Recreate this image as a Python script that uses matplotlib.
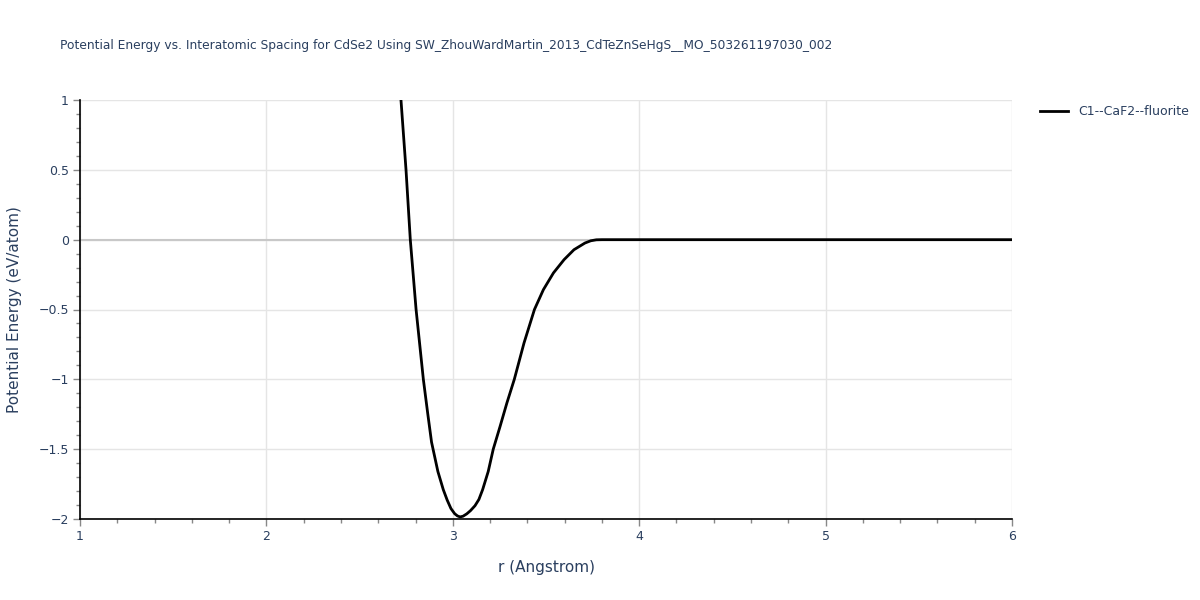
import numpy as np
import matplotlib
matplotlib.use('Agg')
import matplotlib.pyplot as plt
from matplotlib.ticker import MultipleLocator

# data
r_vals = [2.70, 2.722, 2.749, 2.772, 2.803, 2.842, 2.866, 2.886, 2.92, 2.949, 2.97,
          2.99, 3.01, 3.025, 3.039, 3.055, 3.075, 3.095, 3.119, 3.14, 3.160, 3.19,
          3.217, 3.253, 3.29, 3.33, 3.382, 3.438, 3.486, 3.54, 3.597, 3.65,
          3.709, 3.74, 3.77, 3.80, 4.0, 4.5, 5.0, 5.5, 6.0]
e_vals = [1.15, 1.0, 0.5, 0.0, -0.5, -1.0, -1.25, -1.45, -1.66, -1.79, -1.865,
          -1.925, -1.962, -1.978, -1.985, -1.98, -1.963, -1.94, -1.905, -1.86, -1.79, -1.66,
          -1.50, -1.34, -1.17, -1.0, -0.74, -0.50, -0.358, -0.238, -0.143, -0.072,
          -0.024, -0.008, -0.001, 0.0, 0.0, 0.0, 0.0, 0.0, 0.0]
series_name = 'C1--CaF2--fluorite'
title = 'Potential Energy vs. Interatomic Spacing for CdSe2 Using SW_ZhouWardMartin_2013_CdTeZnSeHgS__MO_503261197030_002'

txt = '#2a3f5f'
grid = '#e5e5e5'

fig = plt.figure(figsize=(12, 6), dpi=100)
ax = fig.add_axes([80/1200, 81/600, 932/1200, 419/600])

ax.plot(r_vals, e_vals, color='black', lw=2, label=series_name, zorder=3, clip_on=True)
ax.axhline(0, color='#c8c8c8', lw=1.5, zorder=1)

ax.set_xlim(1, 6)
ax.set_ylim(-2, 1)
ax.xaxis.set_major_locator(MultipleLocator(1))
ax.xaxis.set_minor_locator(MultipleLocator(0.2))
ax.yaxis.set_minor_locator(MultipleLocator(0.1))
ax.set_yticks([-2, -1.5, -1, -0.5, 0, 0.5, 1])
ax.set_yticklabels(['\u22122', '\u22121.5', '\u22121', '\u22120.5', '0', '0.5', '1'])
ax.grid(True, which='major', color=grid, lw=1, zorder=0)
ax.set_axisbelow(True)

for s in ['top', 'right']:
    ax.spines[s].set_visible(False)
for s in ['left', 'bottom']:
    ax.spines[s].set_color('black')
    ax.spines[s].set_linewidth(1.2)

ax.tick_params(which='both', direction='out', color='#888888', labelcolor=txt, labelsize=9)
ax.tick_params(which='major', length=5, width=1, pad=3)
ax.tick_params(which='minor', length=3, width=1)

ax.set_xlabel('r (Angstrom)', color=txt, fontsize=11, labelpad=12)
ax.set_ylabel('Potential Energy (eV/atom)', color=txt, fontsize=11, labelpad=12)

fig.text(60/1200, 1 - 45/600, title, color=txt, fontsize=8.8, ha='left', va='center')

leg = ax.legend(loc='upper left', bbox_to_anchor=(1.025, 1.0), frameon=False,
                fontsize=9, handlelength=2.2, labelcolor=txt, borderaxespad=0)

fig.savefig('out.png', dpi=100)
